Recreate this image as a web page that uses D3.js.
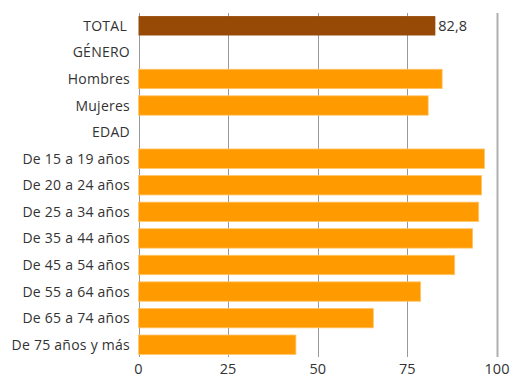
<!DOCTYPE html>
<html><head><meta charset="utf-8">
<script src="https://cdn.jsdelivr.net/npm/d3@7"></script>
<style>body{margin:0;background:#fff}svg{display:block}</style>
</head><body>
<svg id="c" width="511" height="378"></svg>
<script>
const categories = ["TOTAL","GÉNERO","Hombres","Mujeres","EDAD","De 15 a 19 años","De 20 a 24 años","De 25 a 34 años","De 35 a 44 años","De 45 a 54 años","De 55 a 64 años","De 65 a 74 años","De 75 años y más"];
const values = [82.8,null,84.7,80.8,null,96.5,95.7,94.9,93.2,88.2,78.7,65.5,43.9];
const xTicks = [0,25,50,75,100];
const totalLabel = "82,8";

const svg = d3.select("#c");
const x = d3.scaleLinear().domain([0,100]).range([138.5,497]);
const y = d3.scaleBand().domain(categories).range([12.5,358]).paddingInner(0.27).paddingOuter(0.135);
const font = "'Open Sans', sans-serif";

// grid
svg.append("g").selectAll("line").data(xTicks).join("line")
  .attr("x1",d=>Math.round(x(d))+0.5).attr("x2",d=>Math.round(x(d))+0.5)
  .attr("y1",13).attr("y2",357)
  .attr("stroke",d=>d===100?"#b0b0b0":"#999").attr("stroke-width",d=>d===100?2:1);

// bars
const data = categories.map((c,i)=>({c,v:values[i]})).filter(d=>d.v!=null);
svg.append("g").selectAll("rect").data(data).join("rect")
  .attr("x",x(0)).attr("y",d=>y(d.c))
  .attr("width",d=>x(d.v)-x(0)).attr("height",y.bandwidth())
  .attr("fill",d=>d.c==="TOTAL"?"#974A06":"#FF9A00")
  .attr("stroke",d=>d.c==="TOTAL"?"none":"#FFC56A").attr("stroke-width",0.8);

// value label
svg.append("text").attr("x",x(values[0])+3).attr("y",y("TOTAL")+y.bandwidth()/2)
  .attr("dy","0.36em").attr("font-family",font).attr("font-size",14.5).attr("fill","#333")
  .text(totalLabel);

// category labels
svg.append("g").selectAll("text").data(categories).join("text")
  .attr("x",d=>d==="TOTAL"?127:130).attr("y",d=>y(d)+y.bandwidth()/2).attr("dy","0.36em")
  .attr("text-anchor","end").attr("font-family",font).attr("font-size",14).attr("fill","#333")
  .attr("letter-spacing",0.25)
  .text(d=>d);

// x tick labels
svg.append("g").selectAll("text").data(xTicks).join("text")
  .attr("x",d=>x(d)).attr("y",374).attr("text-anchor","middle")
  .attr("font-family",font).attr("font-size",14.5).attr("fill","#333")
  .text(d=>d);
</script>
</body></html>
